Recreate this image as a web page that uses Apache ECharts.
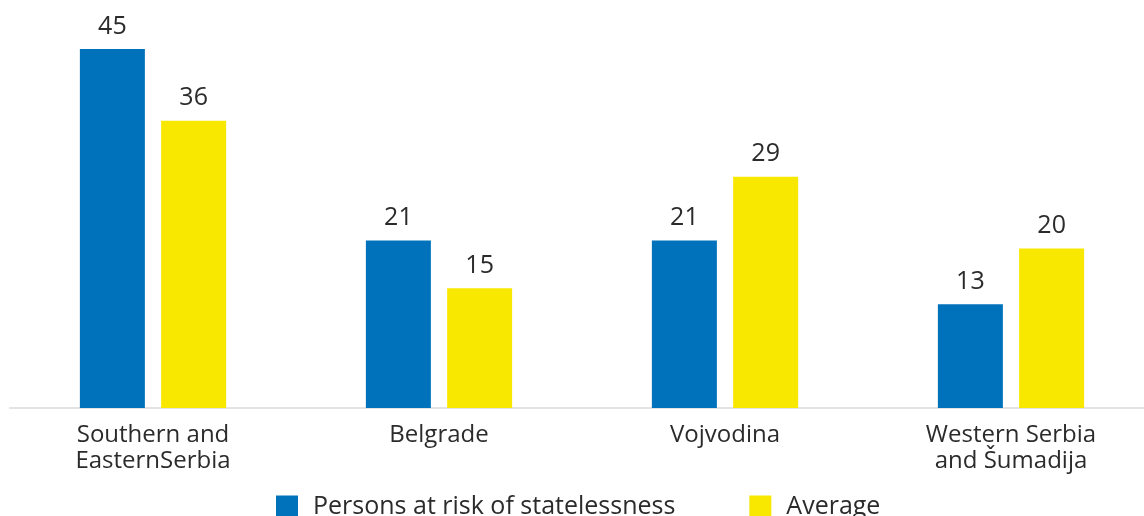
<!DOCTYPE html>
<html><head><meta charset="utf-8">
<script src="https://cdn.jsdelivr.net/npm/echarts@6/dist/echarts.min.js"></script>
<style>html,body{margin:0;padding:0;background:#fff}#c{width:1144px;height:516px}</style>
</head><body><div id="c"></div>
<script>
const categories = ['Southern and\nEasternSerbia', 'Belgrade', 'Vojvodina', 'Western Serbia\nand Šumadija'];
const personsAtRisk = [45, 21, 21, 13];
const average = [36, 15, 29, 20];
const seriesNames = ['Persons at risk of statelessness', 'Average'];

const chart = echarts.init(document.getElementById('c'), null, {renderer: 'canvas'});
const font = '"Open Sans", sans-serif';
const labelCfg = {show: true, position: 'top', distance: 10, color: '#2b2b2b', fontSize: 25, fontFamily: font};
chart.setOption({
  animation: false,
  legend: {
    data: seriesNames, top: 494, left: 276, padding: 0, icon: 'rect', itemWidth: 22, itemHeight: 22, itemGap: 74,
    textStyle: {color: '#2b2b2b', fontSize: 25, fontFamily: font, padding: [0, 0, 0, 10]}
  },
  grid: {left: 10, width: 1144, top: 49, bottom: 108, containLabel: false, outerBoundsMode: 'none'},
  xAxis: {
    type: 'category', data: categories,
    axisLine: {lineStyle: {color: '#e3e3e3', width: 2}},
    axisTick: {show: false},
    axisLabel: {color: '#2b2b2b', fontSize: 24, fontFamily: font, lineHeight: 26, margin: 14}
  },
  yAxis: {type: 'value', min: 0, max: 45, show: false, splitLine: {show: false}},
  series: [
    {name: seriesNames[0], type: 'bar', data: personsAtRisk, barWidth: 65, barGap: '25%', itemStyle: {color: '#0072bc'}, label: labelCfg},
    {name: seriesNames[1], type: 'bar', data: average, barWidth: 65, itemStyle: {color: '#f8e800'}, label: labelCfg}
  ]
});
</script></body></html>
